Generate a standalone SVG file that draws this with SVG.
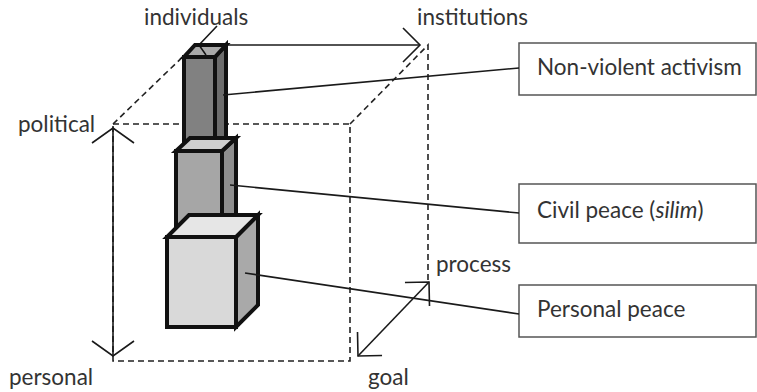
<svg xmlns="http://www.w3.org/2000/svg" width="757" height="392" viewBox="0 0 757 392">
  <style>
    .frame { fill: none; stroke: #222; stroke-width: 1.6; stroke-dasharray: 6 4; }
    .axis { fill: none; stroke: #1a1a1a; stroke-width: 1.6; }
    .solid { fill: none; stroke: #1a1a1a; stroke-width: 1.6; }
    .edge { stroke: #111; stroke-width: 4; stroke-linejoin: miter; }
    .box { fill: #fff; stroke: #555; stroke-width: 1.5; }
    .lbl { font-family: Lato, "Liberation Sans", sans-serif; font-size: 22.5px; fill: #333; }
    .link { fill: none; stroke: #1a1a1a; stroke-width: 1.6; }
  </style>
  <defs>
    <marker id="head" markerUnits="userSpaceOnUse" orient="auto-start-reverse" refX="0" refY="0" markerWidth="40" markerHeight="40" viewBox="-20 -20 40 40" overflow="visible">
      <path d="M -17 -17 L 0 0 L -17 17" fill="none" stroke="#1a1a1a" stroke-width="1.6"/>
    </marker>
    <marker id="headWide" markerUnits="userSpaceOnUse" orient="auto-start-reverse" refX="0" refY="0" markerWidth="50" markerHeight="50" viewBox="-25 -25 50 50" overflow="visible">
      <path d="M -15 -21 L 0 0 L -15 21" fill="none" stroke="#1a1a1a" stroke-width="1.6"/>
    </marker>
  </defs>

  <rect width="757" height="392" fill="#fff"/>

  <!-- dashed cube outline -->
  <g id="frame">
    <path class="frame" d="M113 124 H350 V361 H113 Z"/>
    <path class="frame" d="M113 124 L195 45"/>
    <path class="frame" d="M350 124 L428 45 V282"/>
  </g>

  <!-- axes of the cube -->
  <g id="axes">
    <line class="axis" x1="113" y1="128" x2="113" y2="356" marker-start="url(#headWide)" marker-end="url(#headWide)"/>
    <line class="axis" x1="199" y1="45" x2="420" y2="45" marker-end="url(#head)"/>
    <path class="solid" d="M217 26 L199 45 L217 64"/>
    <line class="axis" x1="358" y1="356" x2="429" y2="282" marker-start="url(#head)" marker-end="url(#head)"/>
  </g>

  <!-- stacked prisms -->
  <g id="prism-activism">
    <polygon class="edge" fill="#6d6d6d" points="215,57 226,45 226,142 215,150"/>
    <rect class="edge" fill="#818181" x="184" y="57" width="31" height="93"/>
    <polygon class="edge" fill="#aaaaaa" points="184,57 215,57 226,45 195,45"/>
    <path d="M199 45 L206 55" stroke="#111" stroke-width="1.5" fill="none"/>
  </g>
  <g id="prism-civil">
    <polygon class="edge" fill="#8e8e8e" points="222,151 236,138 236,222 222,231"/>
    <rect class="edge" fill="#a6a6a6" x="176" y="151" width="46" height="80"/>
    <polygon class="edge" fill="#cfcfcf" points="176,151 222,151 236,138 190,138"/>
  </g>
  <g id="prism-personal">
    <polygon class="edge" fill="#a9a9a9" points="236,237 258,215 258,305 236,327"/>
    <rect class="edge" fill="#d9d9d9" x="167" y="237" width="69" height="90"/>
    <polygon class="edge" fill="#e6e6e6" points="167,237 236,237 258,215 189,215"/>
  </g>

  <!-- label boxes -->
  <g id="box-activism">
    <rect class="box" x="519" y="43" width="237" height="52"/>
    <text class="lbl" x="537" y="75">Non-violent activism</text>
  </g>
  <g id="box-civil">
    <rect class="box" x="519" y="184" width="237" height="59"/>
    <text class="lbl" x="537" y="218">Civil peace (<tspan font-style="italic">silim</tspan>)</text>
  </g>
  <g id="box-personal">
    <rect class="box" x="519" y="285" width="237" height="52"/>
    <text class="lbl" x="537" y="317">Personal peace</text>
  </g>

  <!-- leader lines from prisms to boxes -->
  <g id="connectors">
    <line class="link" x1="223" y1="95" x2="519" y2="68"/>
    <line class="link" x1="230" y1="185" x2="519" y2="213"/>
    <line class="link" x1="245" y1="273" x2="519" y2="314"/>
  </g>

  <!-- axis labels -->
  <g id="axis-labels">
    <text class="lbl" x="144" y="25">individuals</text>
    <text class="lbl" x="417" y="25">institutions</text>
    <text class="lbl" x="18" y="132">political</text>
    <text class="lbl" x="9" y="385">personal</text>
    <text class="lbl" x="368" y="385">goal</text>
    <text class="lbl" x="436" y="272">process</text>
  </g>
</svg>
